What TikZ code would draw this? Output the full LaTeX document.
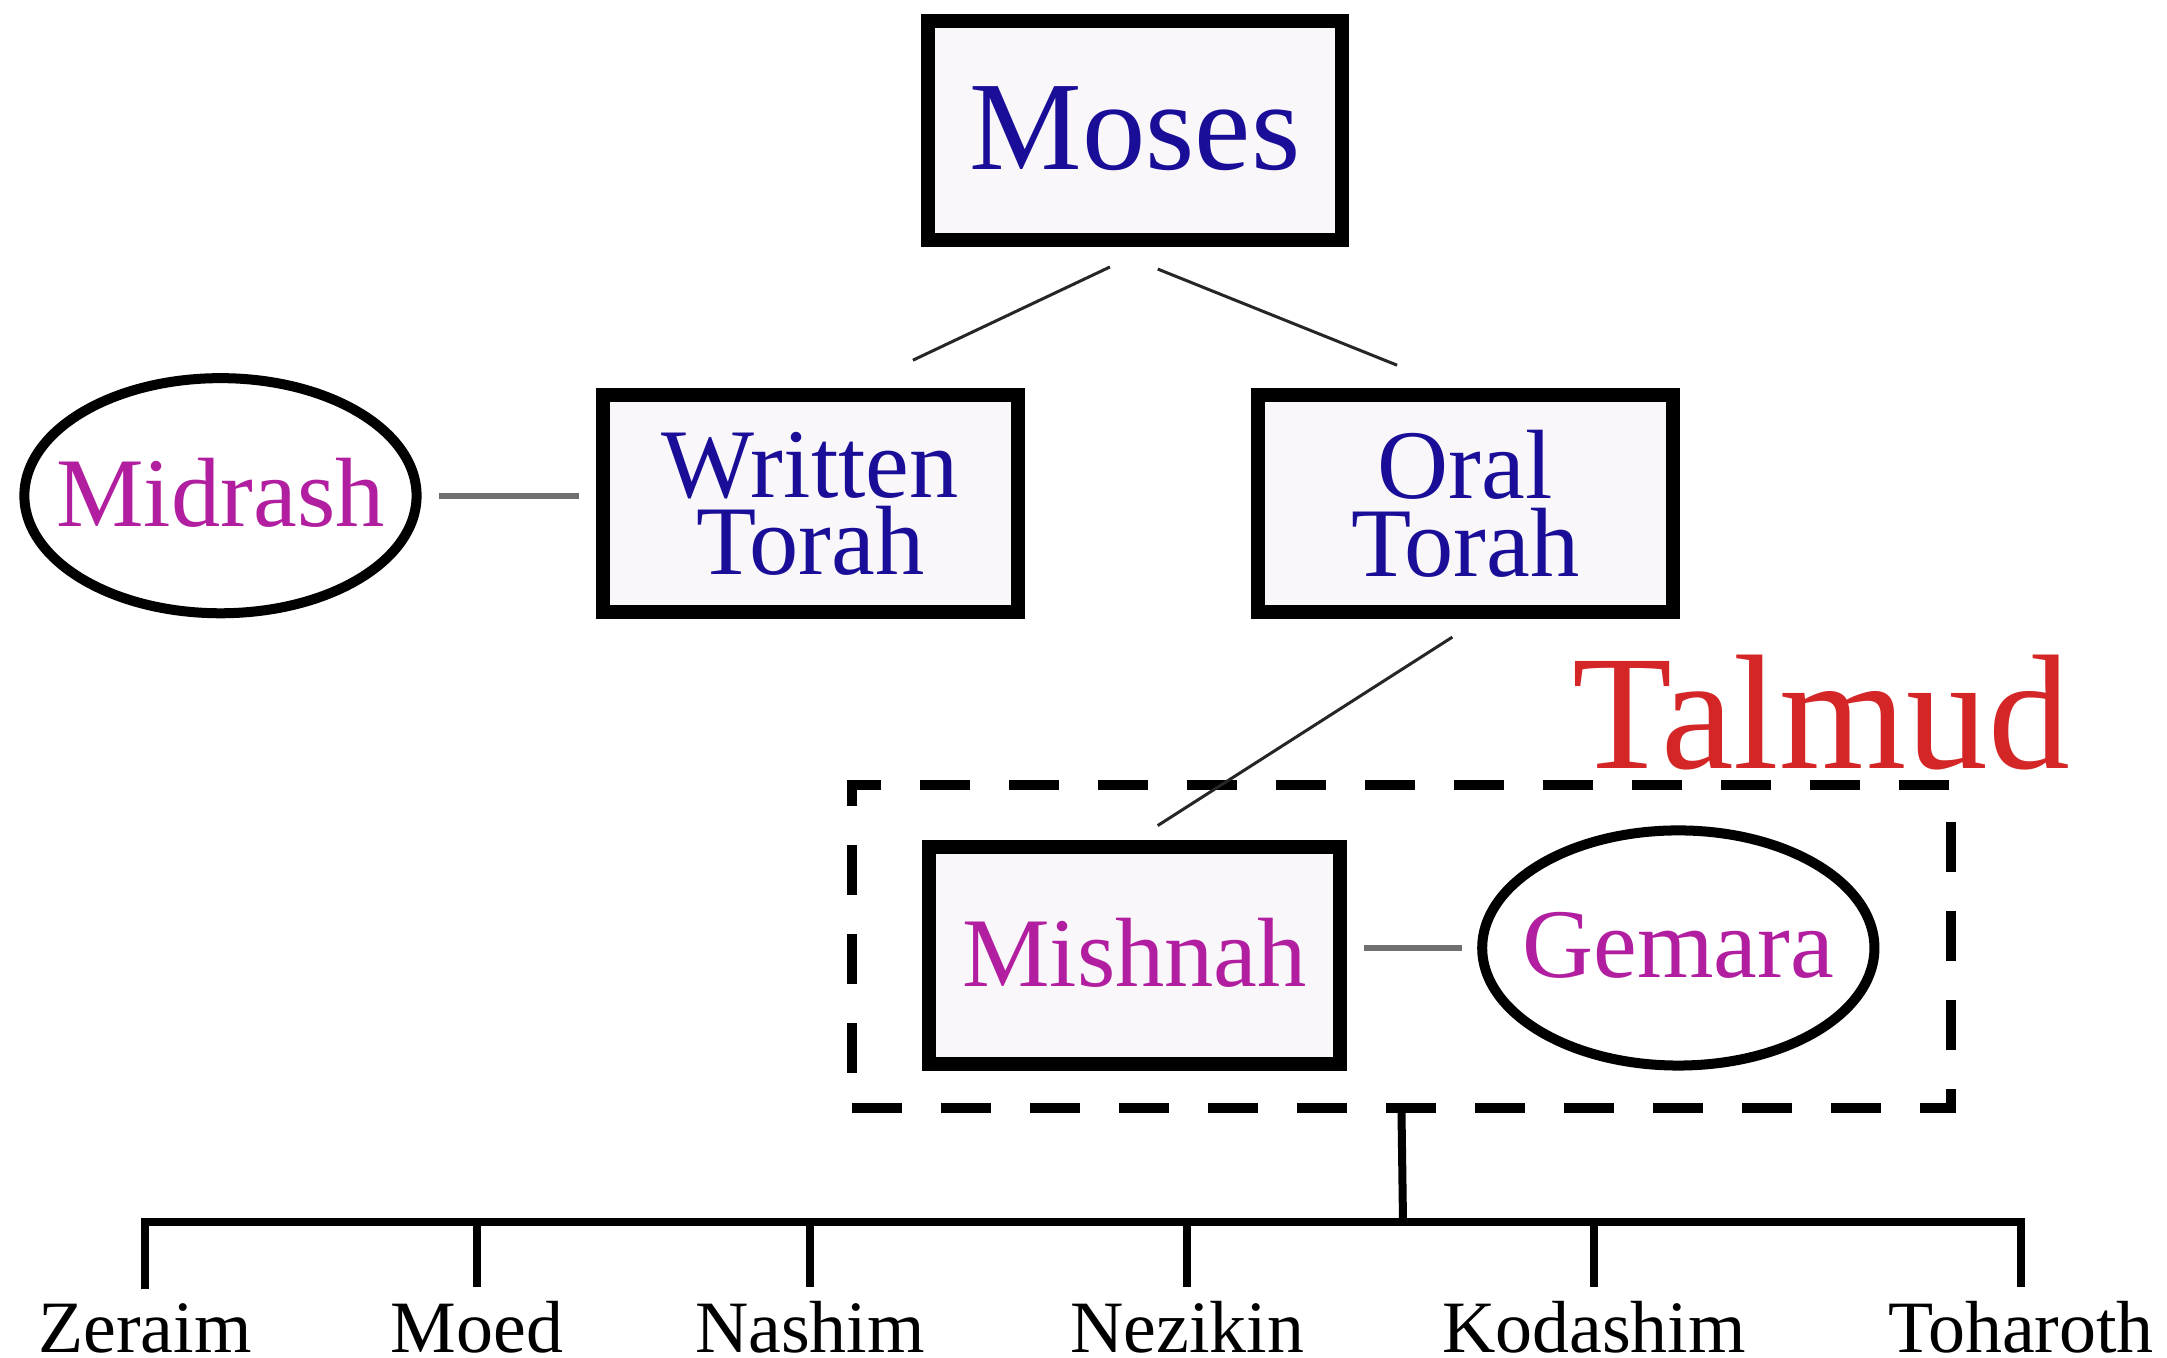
\documentclass[tikz,border=0pt]{standalone}
\usepackage{fontspec}
\setmainfont{Liberation Serif}
\usetikzlibrary{shapes.geometric}
\definecolor{nameblue}{RGB}{26,14,152}
\definecolor{namepink}{RGB}{178,30,160}
\definecolor{talmudred}{RGB}{212,38,38}
\definecolor{boxfill}{RGB}{249,247,250}
\definecolor{linkgrey}{RGB}{112,112,112}

\begin{document}
\begin{tikzpicture}[x=0.01cm,y=-0.01cm,node distance=3.73cm,
    box/.style={draw,line width=0.14cm,fill=boxfill,inner sep=0pt,align=center,
      minimum width=4.15cm,minimum height=2.17cm,
      font=\fontsize{28}{22}\selectfont,text=nameblue},
    oval/.style={ellipse,draw,line width=0.1cm,fill=white,inner xsep=-0.8cm,
      inner ysep=-0.2cm,minimum width=3.92cm,minimum height=2.35cm,text depth=0.17em,
      font=\fontsize{28}{34}\selectfont,text=namepink},
    link/.style={linkgrey,line width=0.06cm},
    branch/.style={black!85,line width=0.03cm},
    tree/.style={line width=0.08cm},
    book/.style={anchor=base,inner sep=0pt,inner ysep=0.13cm,
      font=\fontsize{21}{25}\selectfont}]
      \useasboundingbox (0,0) rectangle (2167,1358);
      \node [box,minimum width=4.14cm,minimum height=2.19cm,text depth=0.12em,
        font=\fontsize{36}{43}\selectfont] (1) at (1135,130.5) {Moses};
      \node [box,below of=1,xshift=-3.245cm] (2) {Written\\Torah};
      \node [box,below of=1,xshift=3.3cm] (3) {Oral\\Torah};
      \node [oval,left of=2,xshift=-2.165cm,yshift=0.08cm] (4) {Midrash};
      \node [box,below of=3,xshift=-3.305cm,yshift=-0.785cm,minimum width=4.11cm,
        minimum height=2.16cm,text depth=0.17em,text=namepink] (5) {Mishnah};
      \node [oval,right of=5,xshift=1.705cm,yshift=0.075cm] (6) {Gemara};
      \node [draw,line width=0.1cm,dash pattern=on 0.5cm off 0.39cm,
        minimum width=10.99cm,minimum height=3.23cm] (7) at (1401.5,946.5) {};
      \node [anchor=base west,inner sep=0pt,text=talmudred,
        font=\fontsize{46.5}{55}\selectfont] (8) at (1572,768) {Talmud};

      \node [book] (9) at (145,1352) {Zeraim};
      \node [book] (10) at (477,1352) {Moed};
      \node [book] (11) at (810,1352) {Nashim};
      \node [book] (12) at (1187,1352) {Nezikin};
      \node [book] (13) at (1594,1352) {Kodashim};
      \node [book] (14) at (2021,1352) {Toharoth};
      \coordinate (15) at (1403,1222);

      \draw[branch,shorten <=0.465cm,shorten >=0.653cm] ([xshift=0.17cm]1.south) -- ([xshift=0.435cm]2.north);
      \draw[branch,shorten <=0.59cm,shorten >=0.615cm] ([xshift=-0.32cm]1.south) -- ([xshift=-0.11cm]3.north);
      \draw[branch,shorten <=0.33cm,shorten >=0.275cm] ([xshift=0.15cm]3.south) -- (5.north);
      \draw[link,shorten <=0.17cm,shorten >=0.17cm] (4.east) -- (4.east -| 2.west);
      \draw[link,shorten <=0.17cm,shorten >=0.15cm] (5.east |- 6.west) -- (6.west);

      \draw[tree] (7.south) -- (15);
      \draw[tree] (9.north) |- (15);
      \draw[tree] (10.north) |- (15);
      \draw[tree] (11.north) |- (15);
      \draw[tree] (12.north) |- (15);
      \draw[tree] (13.north) |- (15);
      \draw[tree] (14.north) |- (15);
    \end{tikzpicture}
\end{document}
